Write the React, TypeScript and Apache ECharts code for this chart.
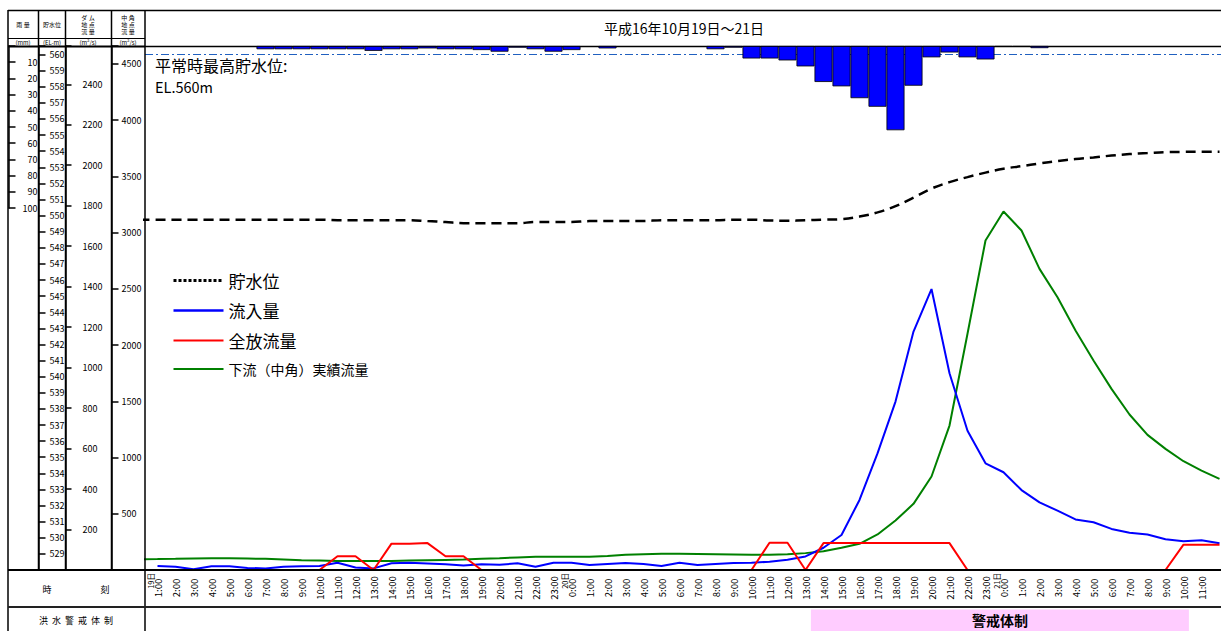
import React, { useEffect, useRef } from 'react';
import * as echarts from 'echarts';

const FONT = '"Noto Sans CJK JP", "Noto Sans", sans-serif';
const NUM_FONT = '"Liberation Sans Narrow", "Noto Sans CJK JP", sans-serif';

// hour index: 0 = 19日 0:00, 24 = 20日 0:00, 48 = 21日 0:00
const HOURS_FROM_1: number[] = Array.from({ length: 60 }, (_, i) => i + 1);
const HOURS_FROM_0: number[] = Array.from({ length: 61 }, (_, i) => i);

// ダム地点 流入量 (m3/s), 19日1:00 .. 21日12:00
const INFLOW = [
  20, 16, 4, 18, 18, 10, 8, 16, 18, 20,
  36, 12, 8, 33, 36, 32, 28, 22, 28, 26,
  33, 16, 36, 36, 25, 30, 35, 30, 20, 36,
  25, 30, 35, 36, 41, 51, 67, 110, 173, 346,
  576, 832, 1178, 1388, 972, 688, 527, 483, 395, 334,
  293, 250, 236, 203, 184, 175, 152, 142, 147, 132,
];

// 全放流量 (m3/s), 19日1:00 .. 21日12:00
const DISCHARGE = [
  0, 0, 0, 0, 0, 0, 0, 0, 0, 0,
  68, 68, 0, 130, 130, 133, 68, 68, 0, 0,
  0, 0, 0, 0, 0, 0, 0, 0, 0, 0,
  0, 0, 0, 0, 135, 135, 0, 133, 133, 133,
  133, 133, 133, 133, 133, 0, 0, 0, 0, 0,
  0, 0, 0, 0, 0, 0, 0, 125, 125, 125,
];

// 下流（中角）実績流量 (m3/s), 19日0:00 .. 21日12:00
const DOWNSTREAM = [
  96,
  97, 99, 102, 104, 105, 102, 99, 93, 87, 84,
  81, 81, 81, 81, 84, 87, 90, 93, 99, 105,
  112, 117, 117, 117, 118, 125, 135, 140, 144, 144,
  142, 140, 138, 135, 135, 141, 150, 167, 197, 233,
  316, 440, 588, 831, 1284, 2100, 2929, 3187, 3018, 2677,
  2425, 2129, 1862, 1610, 1382, 1201, 1077, 967, 884, 810,
];

// 貯水位 (EL m), 19日0:00 .. 21日12:00
const WATER_LEVEL = [
  549.75,
  549.75, 549.75, 549.75, 549.75, 549.75, 549.75, 549.75, 549.75, 549.75, 549.75,
  549.72, 549.72, 549.72, 549.72, 549.72, 549.66, 549.6, 549.53, 549.53, 549.53,
  549.53, 549.6, 549.6, 549.6, 549.66, 549.66, 549.66, 549.66, 549.72, 549.72,
  549.72, 549.72, 549.75, 549.75, 549.7, 549.68, 549.71, 549.75, 549.78, 549.94,
  550.2, 550.59, 551.12, 551.68, 552.08, 552.39, 552.67, 552.91, 553.07, 553.24,
  553.39, 553.51, 553.61, 553.73, 553.82, 553.88, 553.94, 553.96, 553.97, 553.97,
];

// 雨量 (mm)
const RAIN_HOURS = [
  7, 8, 9, 10, 11, 12, 13, 14, 15, 16, 17, 18, 19, 20, 21, 22, 23, 24, 26,
  32, 33, 34, 35, 36, 37, 38, 39, 40, 41, 42, 43, 44, 45, 46, 47, 48, 49, 50,
];
const RAIN_MM = [
  2, 2, 2, 2, 2, 2, 3, 2, 2, 1.5, 2, 2, 2.5, 3.5, 1, 2, 3.5, 2.5, 1.5,
  2, 1, 7.7, 7.7, 8.9, 12.6, 22.2, 24.9, 32.2, 37.5, 52, 24.5, 7, 4, 7, 8.3, 0.5, 0.5, 1.3,
];

const NORMAL_HWL = 560; // 平常時最高貯水位
const ALERT_START = 37.3; // 警戒体制 開始
const ALERT_END = 58.3; // 警戒体制 終了
const DAY_MARKS: Record<number, string> = { 1: '19日', 24: '20日', 48: '21日' };

const TITLE = '平成16年10月19日～21日';
const NAMES = ['貯水位', '流入量', '全放流量', '下流（中角）実績流量'];

// layout: hour h sits at x = 139.5 + 18 h ; plot spans x 145 .. 1221
const PLOT_LEFT = 145;
const LABEL_LEFT = 139.5;
const X_MIN = (PLOT_LEFT - LABEL_LEFT) / 18;
const X_MAX = (1221 - LABEL_LEFT) / 18;

function zip(xs: number[], ys: number[]) {
  return ys.map((y, i) => [xs[i], y]);
}

function buildOption(): any {
  const hiddenX = (gridIndex: number) => ({
    type: 'value', gridIndex, min: X_MIN, max: X_MAX, show: false,
  });
  const axLine = { show: true, onZero: false, lineStyle: { color: '#000', width: 1.5 } };
  const tick = (len: number) => ({
    show: true, inside: true, length: len, lineStyle: { color: '#000', width: 1.5 },
  });
  const lab = (margin: number, extra: any = {}) => ({
    show: true, inside: true, margin, fontSize: 9, color: '#000', fontFamily: NUM_FONT, ...extra,
  });

  const line = (x1: number, y1: number, x2: number, y2: number, w = 1.5, color = '#000', z = 200) => ({
    type: 'line', z, silent: true,
    shape: { x1, y1, x2, y2 },
    style: { stroke: color, lineWidth: w },
  });
  const txt = (text: string, x: number, y: number, size: number, extra: any = {}) => ({
    type: 'text', z: 210, silent: true, x, y,
    style: {
      text, fontSize: size, fontFamily: FONT, fill: '#000',
      align: 'center', verticalAlign: 'middle', ...extra,
    },
  });

  return {
    animation: false,
    backgroundColor: '#fff',
    textStyle: { fontFamily: FONT },
    grid: [
      { left: PLOT_LEFT, right: 0, top: 46, bottom: 61 },
      { left: PLOT_LEFT, right: 0, top: 46, height: 162 },
      { left: PLOT_LEFT, right: 0, top: 609.5, bottom: 0 },
      { left: LABEL_LEFT, right: 0, top: 569, height: 1 },
    ],
    legend: {
      orient: 'vertical', left: 172, top: 272, padding: 0,
      itemWidth: 50, itemHeight: 14, itemGap: 13,
      selectedMode: false,
      itemStyle: { opacity: 0 },
      textStyle: { color: '#000', fontFamily: FONT, fontSize: 17 },
      data: [
        { name: NAMES[0], lineStyle: { type: [3, 2], width: 3 } },
        { name: NAMES[1], lineStyle: { width: 2.5 } },
        { name: NAMES[2] },
        { name: NAMES[3], textStyle: { fontSize: 14 } },
      ],
    },
    xAxis: [
      hiddenX(0),
      hiddenX(1),
      hiddenX(2),
      {
        type: 'value', gridIndex: 3, min: 0, max: X_MAX, interval: 1, position: 'bottom',
        axisLine: { show: false, onZero: false }, axisTick: { show: false }, splitLine: { show: false },
        axisLabel: {
          rotate: 90, align: 'center', verticalAlign: 'middle', margin: 18,
          fontSize: 9.5, color: '#000', fontFamily: FONT,
          formatter: (v: number) =>
            Number.isInteger(v) && v >= 1 && v <= 59 ? `${v % 24}:00` : '',
        },
      },
      {
        type: 'value', gridIndex: 3, min: 0, max: X_MAX, interval: 1, position: 'bottom',
        axisLine: { show: false, onZero: false }, axisTick: { show: false }, splitLine: { show: false },
        axisLabel: {
          rotate: 90, verticalAlign: 'bottom', lineHeight: 15, margin: 3,
          fontSize: 7.5, color: '#000', fontFamily: FONT,
          formatter: (v: number) => DAY_MARKS[v] || '',
        },
      },
    ],
    yAxis: [
      {
        type: 'value', gridIndex: 0, position: 'left', offset: PLOT_LEFT - 38.5,
        min: 528, max: 560.53, interval: 1,
        axisLine: axLine, splitLine: { show: false }, axisTick: tick(7),
        axisLabel: lab(11, {
          formatter: (v: number) => (Number.isInteger(v) && v >= 529 && v <= 560 ? String(v) : ''),
        }),
      },
      {
        type: 'value', gridIndex: 0, position: 'left', offset: PLOT_LEFT - 65.5,
        min: 0, max: 2589, interval: 200,
        axisLine: axLine, splitLine: { show: false }, axisTick: tick(6),
        axisLabel: lab(17, {
          formatter: (v: number) => (v > 0 && v <= 2400 && v % 200 === 0 ? String(v) : ''),
        }),
      },
      {
        type: 'value', gridIndex: 0, position: 'left', offset: PLOT_LEFT - 111.5,
        min: 0, max: 4658, interval: 500,
        axisLine: axLine, splitLine: { show: false }, axisTick: tick(7),
        axisLabel: lab(10, {
          formatter: (v: number) => (v > 0 && v <= 4500 && v % 500 === 0 ? String(v) : ''),
        }),
      },
      {
        type: 'value', gridIndex: 1, position: 'left', offset: PLOT_LEFT - 8.5, inverse: true,
        min: 0, max: 100, interval: 10,
        axisLine: axLine, splitLine: { show: false }, axisTick: tick(7),
        axisLabel: lab(29, {
          align: 'right',
          formatter: (v: number) => (v > 0 ? String(v) : ''),
        }),
      },
      { type: 'value', gridIndex: 2, min: 0, max: 1, show: false },
      { type: 'value', gridIndex: 3, min: 0, max: 1, show: false },
    ],
    series: [
      {
        name: NAMES[0], type: 'line', xAxisIndex: 0, yAxisIndex: 0, z: 3,
        data: zip(HOURS_FROM_0, WATER_LEVEL), symbol: 'none', smooth: 0.4,
        lineStyle: { color: '#000', width: 2.5, type: [10, 6] },
        itemStyle: { color: '#000' },
        markLine: {
          silent: true, symbol: ['none', 'none'], label: { show: false },
          lineStyle: { color: '#2060c0', width: 1, type: [8, 3, 2, 3] },
          data: [{ yAxis: NORMAL_HWL }],
        },
      },
      {
        name: NAMES[3], type: 'line', xAxisIndex: 0, yAxisIndex: 2, z: 3,
        data: zip(HOURS_FROM_0, DOWNSTREAM), symbol: 'none',
        lineStyle: { color: '#008000', width: 2 }, itemStyle: { color: '#008000' },
      },
      {
        name: NAMES[1], type: 'line', xAxisIndex: 0, yAxisIndex: 1, z: 4,
        data: zip(HOURS_FROM_1, INFLOW), symbol: 'none',
        lineStyle: { color: '#0000ff', width: 2 }, itemStyle: { color: '#0000ff' },
      },
      {
        name: NAMES[2], type: 'line', xAxisIndex: 0, yAxisIndex: 1, z: 5,
        data: zip(HOURS_FROM_1, DISCHARGE), symbol: 'none',
        lineStyle: { color: '#ff0000', width: 2 }, itemStyle: { color: '#ff0000' },
      },
      {
        name: '雨量', type: 'bar', xAxisIndex: 1, yAxisIndex: 3, barWidth: 18, z: 6,
        data: zip(RAIN_HOURS, RAIN_MM),
        itemStyle: { color: '#0000ff', borderColor: '#000', borderWidth: 0.8 },
      },
      {
        name: '警戒体制', type: 'line', xAxisIndex: 2, yAxisIndex: 4,
        data: [[ALERT_START, 0], [ALERT_END, 0]], symbol: 'none',
        lineStyle: { opacity: 0 },
        markArea: {
          silent: true,
          itemStyle: { color: '#ffccff' },
          label: {
            show: true, position: 'inside', color: '#000', fontSize: 14,
            fontFamily: FONT, fontWeight: 'bold', formatter: '警戒体制',
          },
          data: [[{ xAxis: ALERT_START }, { xAxis: ALERT_END }]],
        },
      },
    ],
    graphic: [
      line(8, 10.5, 1221, 10.5),
      line(8, 10, 8, 631),
      line(38.5, 10, 38.5, 570),
      line(65.5, 10, 65.5, 570),
      line(111.5, 10, 111.5, 570),
      line(145, 10, 145, 631),
      line(8, 38.5, 145, 38.5, 1),
      line(8, 46.5, 145, 46.5, 1.8),
      line(145, 46.5, 1221, 46.5, 1.5, '#000', 1),
      line(8, 570, 1221, 570, 2),
      line(8, 607, 1221, 607, 2, '#222'),
      txt(TITLE, 684, 28, 14),
      txt('平常時最高貯水位:', 155, 65, 16, { align: 'left' }),
      txt('EL.560m', 155, 86, 14.5, { align: 'left' }),
      txt('雨 量', 23, 24, 6),
      txt('貯水位', 52, 24, 6),
      txt('ダ ム', 88, 17, 6), txt('地 点', 88, 24, 6), txt('流 量', 88, 31, 6),
      txt('中 角', 128, 17, 6), txt('地 点', 128, 24, 6), txt('流 量', 128, 31, 6),
      txt('(mm)', 23, 42.5, 6), txt('(EL-m)', 52, 42.5, 6),
      txt('(m³/s)', 88, 42.5, 6), txt('(m³/s)', 128, 42.5, 6),
      txt('時', 47, 589, 9), txt('刻', 105, 589, 9),
      txt('洪  水  警  戒  体  制', 76, 620, 9),
    ],
  };
}

export default function App() {
  const ref = useRef<HTMLDivElement>(null);
  useEffect(() => {
    document.body.style.margin = '0';
    const chart = echarts.init(ref.current!, null, { renderer: 'svg' });
    chart.setOption(buildOption());
    return () => chart.dispose();
  }, []);
  return <div ref={ref} style={{ width: 1221, height: 631 }} />;
}
